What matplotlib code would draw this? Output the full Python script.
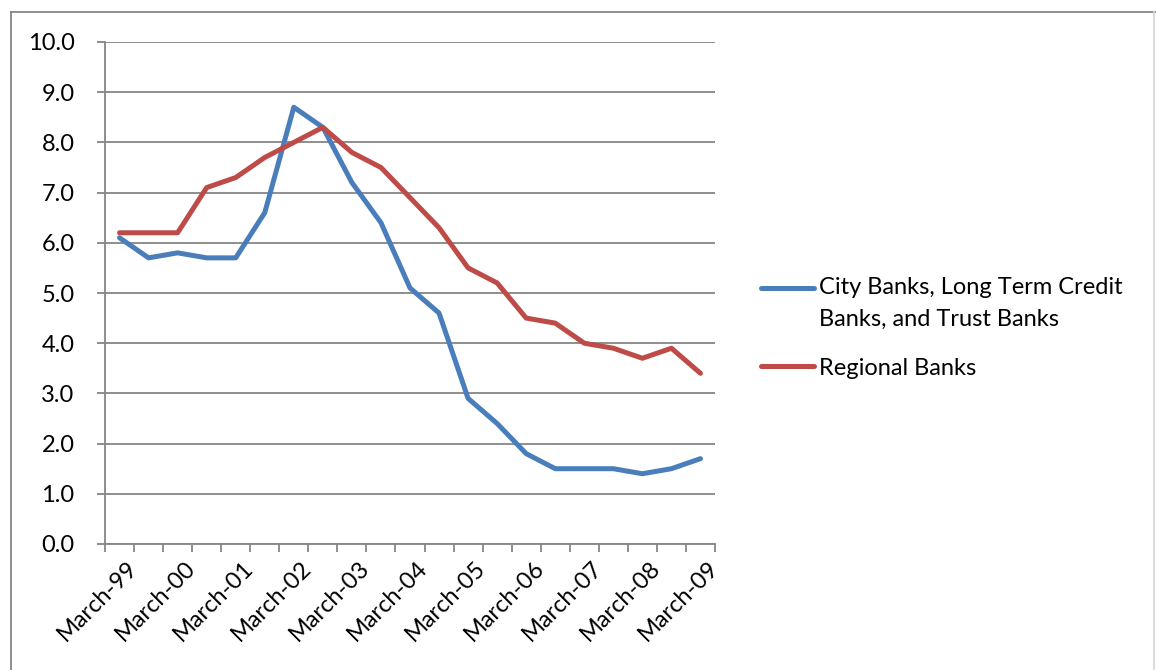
import numpy as np
import matplotlib.pyplot as plt
import matplotlib.transforms as mtransforms
from matplotlib.lines import Line2D
from matplotlib.legend_handler import HandlerLine2D

plt.rcParams['font.family'] = ['Lato', 'DejaVu Sans']

# semi-annual observations, March-99 .. March-09
periods = ["March-99", "Sept-99", "March-00", "Sept-00", "March-01", "Sept-01",
           "March-02", "Sept-02", "March-03", "Sept-03", "March-04", "Sept-04",
           "March-05", "Sept-05", "March-06", "Sept-06", "March-07", "Sept-07",
           "March-08", "Sept-08", "March-09"]
city_banks = [6.1, 5.7, 5.8, 5.7, 5.7, 6.6, 8.7, 8.3, 7.2, 6.4, 5.1, 4.6,
              2.9, 2.4, 1.8, 1.5, 1.5, 1.5, 1.4, 1.5, 1.7]
regional_banks = [6.2, 6.2, 6.2, 7.1, 7.3, 7.7, 8.0, 8.3, 7.8, 7.5, 6.9, 6.3,
                  5.5, 5.2, 4.5, 4.4, 4.0, 3.9, 3.7, 3.9, 3.4]
yticks = [0, 1, 2, 3, 4, 5, 6, 7, 8, 9, 10]

grey = '#868686'
blue = '#4A7EBB'
red = '#BE4B48'
fs = 17


class TopLineHandler(HandlerLine2D):
    # put the legend line next to the first line of a two-line label
    def __init__(self, shift, **kw):
        super().__init__(**kw)
        self.shift = shift

    def create_artists(self, legend, orig_handle, xdescent, ydescent,
                       width, height, fontsize, trans):
        arts = super().create_artists(legend, orig_handle, xdescent, ydescent,
                                      width, height, fontsize, trans)
        for a in arts:
            a.set_ydata(np.asarray(a.get_ydata()) + self.shift * fontsize)
        return arts


fig = plt.figure(figsize=(11.56, 6.7), dpi=100)
ax = fig.add_axes([105/1156, 1 - 544/670, 610/1156, 502/670])

x = list(range(len(periods)))
l1, = ax.plot(x, city_banks, color=blue, lw=3.6, solid_joinstyle='round',
              solid_capstyle='round',
              label="City Banks, Long Term Credit\nBanks, and Trust Banks")
l2, = ax.plot(x, regional_banks, color=red, lw=3.6, solid_joinstyle='round',
              solid_capstyle='round', label="Regional Banks")

ax.set_xlim(-0.5, len(periods) - 0.5)
ax.set_ylim(0, 10)
ax.set_yticks(yticks)
ax.set_yticklabels([f"{v:.1f}" for v in yticks], fontsize=fs)
ax.yaxis.grid(True, color=grey, lw=1.3)
ax.set_axisbelow(True)

# tick marks on category boundaries, labels every other period
ax.set_xticks([i - 0.5 for i in range(len(periods) + 1)])
ax.set_xticklabels([])
ax.set_xticks(x[::2], minor=True)
ax.set_xticklabels(periods[::2], minor=True, rotation=45, ha='right',
                   rotation_mode='anchor', fontsize=fs)
ax.tick_params(axis='x', which='major', length=6, width=1.3, color=grey, direction='out')
ax.tick_params(axis='x', which='minor', length=0, pad=9)
ax.tick_params(axis='y', length=6, width=1.3, color=grey, pad=16)
shift = mtransforms.ScaledTranslation(0.07, -0.01, fig.dpi_scale_trans)
for lab in ax.get_xticklabels(minor=True):
    lab.set_transform(lab.get_transform() + shift)

for s in ['top', 'right']:
    ax.spines[s].set_visible(False)
for s in ['left', 'bottom']:
    ax.spines[s].set_color(grey)
    ax.spines[s].set_linewidth(1.3)

leg = fig.legend(handles=[l1, l2], loc='upper left', bbox_to_anchor=(761/1156, 1 - 277/670),
                 frameon=False, fontsize=fs, handlelength=2.25, handletextpad=0.2,
                 labelspacing=1.17, borderpad=0, borderaxespad=0,
                 handler_map={l1: TopLineHandler(0.66)})
for t in leg.get_texts():
    t.set_linespacing(1.65)

# outer chart border
fig.add_artist(Line2D([11/1156, 1], [1 - 12/670, 1 - 12/670], color=grey, lw=1.3))
fig.add_artist(Line2D([11/1156, 11/1156], [0, 1 - 12/670], color=grey, lw=1.3))
fig.add_artist(Line2D([1154/1156, 1154/1156], [0, 1 - 12/670], color='#d9d9d9', lw=1.3))

fig.savefig('out.png', dpi=100)
